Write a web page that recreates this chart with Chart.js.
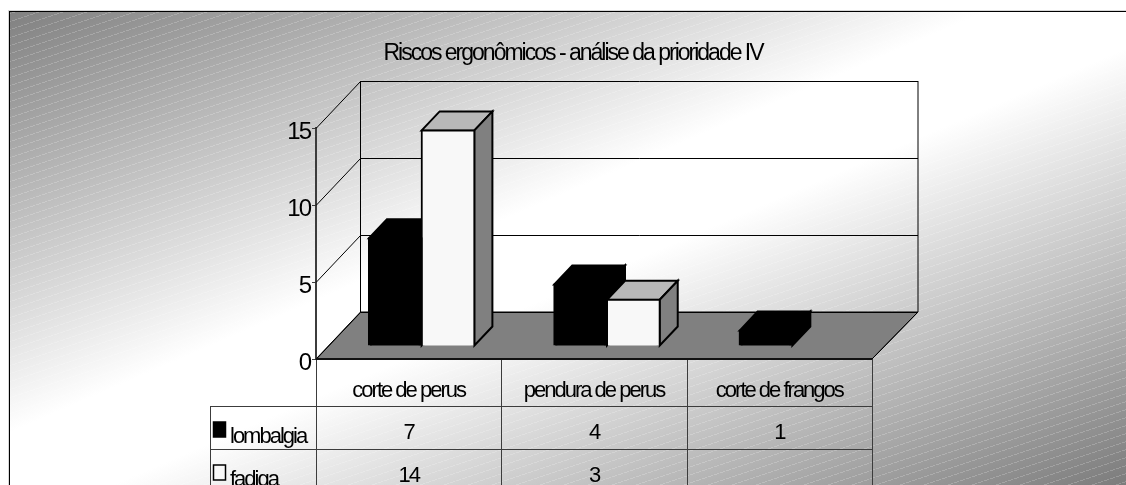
<!DOCTYPE html>
<html lang="pt">
<head>
<meta charset="utf-8">
<title>Riscos ergonômicos</title>
<style>
  html, body { margin: 0; padding: 0; background: #fff; overflow: hidden; }
  canvas { display: block; }
</style>
<script src="https://cdn.jsdelivr.net/npm/chart.js@4/dist/chart.umd.min.js"></script>
</head>
<body>
<canvas id="chart" width="1126" height="485"></canvas>
<script>
const titleText = 'Riscos ergonômicos - análise da prioridade IV';
const categories = ['corte de perus', 'pendura de perus', 'corte de frangos'];
const lombalgia = [7, 4, 1];
const fadiga = [14, 3, null];
const yTicks = [0, 5, 10, 15];

const FONT = '"Liberation Sans", Arial, sans-serif';
const TEXT_SPACING = '-2px';
const FLOOR_DEPTH = { x: 45, y: -47 };  // back wall relative to the front plane
const BAR_INSET = { x: 13, y: -13 };    // bars stand a little behind the front edge
const BAR_DEPTH = { x: 18, y: -19 };
const ROW_HEIGHT = 43;
const KEY_LEFT = 210;

// diagonal dashed hatch laid over the background gradient
function makeHatch() {
  const tile = document.createElement('canvas');
  tile.width = 24;
  tile.height = 8;
  const c = tile.getContext('2d');
  c.fillStyle = 'rgba(255,255,255,0.2)';
  for (let x = 0; x < 24; x++) {
    if (x % 6 === 5) continue;
    const y = (8 - Math.floor(x / 3)) % 8;
    c.fillRect(x, y, 1, 1);
  }
  return tile;
}

// top and side of one dataset's boxes; the library paints the front faces later
function drawBoxSides(chart, index) {
  const { ctx } = chart;
  const ds = chart.data.datasets[index];
  ctx.save();
  ctx.translate(BAR_INSET.x, BAR_INSET.y);
  ctx.strokeStyle = '#000';
  ctx.lineWidth = 2;
  chart.getDatasetMeta(index).data.forEach((bar, i) => {
    if (ds.data[i] == null) return;
    const l = bar.x - bar.width / 2;
    const r = bar.x + bar.width / 2;
    const t = bar.y;
    const b = bar.base;
    ctx.fillStyle = ds.topColor;
    ctx.beginPath();
    ctx.moveTo(l, t);
    ctx.lineTo(l + BAR_DEPTH.x, t + BAR_DEPTH.y);
    ctx.lineTo(r + BAR_DEPTH.x, t + BAR_DEPTH.y);
    ctx.lineTo(r, t);
    ctx.closePath();
    ctx.fill();
    ctx.stroke();
    ctx.fillStyle = ds.sideColor;
    ctx.beginPath();
    ctx.moveTo(r, t);
    ctx.lineTo(r + BAR_DEPTH.x, t + BAR_DEPTH.y);
    ctx.lineTo(r + BAR_DEPTH.x, b + BAR_DEPTH.y);
    ctx.lineTo(r, b);
    ctx.closePath();
    ctx.fill();
    ctx.stroke();
  });
  ctx.restore();
}

const backdrop = {
  id: 'backdrop',
  beforeDraw(chart) {
    const ctx = chart.ctx;
    ctx.letterSpacing = TEXT_SPACING;
    ctx.save();
    const g = ctx.createLinearGradient(387, -166, 739, 651);
    g.addColorStop(0, '#7c7c7c');
    g.addColorStop(0.45, '#ffffff');
    g.addColorStop(0.55, '#ffffff');
    g.addColorStop(1, '#7c7c7c');
    ctx.fillStyle = g;
    ctx.fillRect(10, 12, chart.width - 10, chart.height - 12);
    ctx.fillStyle = ctx.createPattern(makeHatch(), 'repeat');
    ctx.fillRect(10, 12, chart.width - 10, chart.height - 12);
    // frame: top and left edges only reach the page
    ctx.fillStyle = '#d8d8d8';
    ctx.fillRect(8, 10, chart.width - 8, 1);
    ctx.fillRect(8, 10, 1, chart.height - 10);
    ctx.fillStyle = '#000';
    ctx.fillRect(9, 11, chart.width - 9, 1);
    ctx.fillRect(9, 11, 1, chart.height - 11);
    ctx.restore();
  },
  // floor, back wall and the gridlines running round them, then the box sides
  beforeDatasetsDraw(chart) {
    const { ctx, chartArea: a, scales } = chart;
    const d = FLOOR_DEPTH;
    const backLeft = a.left + d.x - 0.5;
    const backRight = a.right + d.x + 1;
    ctx.save();
    ctx.strokeStyle = '#000';
    ctx.lineWidth = 1;
    ctx.fillStyle = '#808080';
    ctx.beginPath();
    ctx.moveTo(a.left, a.bottom);
    ctx.lineTo(a.right, a.bottom);
    ctx.lineTo(backRight, a.bottom + d.y);
    ctx.lineTo(backLeft, a.bottom + d.y);
    ctx.closePath();
    ctx.fill();
    ctx.stroke();
    yTicks.forEach(v => {
      const y = Math.round(scales.y.getPixelForValue(v)) + 0.5;
      ctx.beginPath();
      ctx.moveTo(a.left, y);
      ctx.lineTo(backLeft, y + d.y);
      ctx.lineTo(backRight, y + d.y);
      ctx.stroke();
    });
    ctx.beginPath();
    ctx.moveTo(backLeft, a.top + d.y);
    ctx.lineTo(backLeft, a.bottom + d.y);
    ctx.moveTo(backRight, a.top + d.y);
    ctx.lineTo(backRight, a.bottom + d.y);
    ctx.lineTo(a.right, a.bottom);
    ctx.stroke();
    ctx.restore();
    chart.data.datasets.forEach((ds, i) => drawBoxSides(chart, i));
  },
  beforeDatasetDraw(chart) {
    chart.ctx.save();
    chart.ctx.translate(BAR_INSET.x, BAR_INSET.y);
  },
  afterDatasetDraw(chart) {
    chart.ctx.restore();
  },
  // data table under the axis
  afterDraw(chart) {
    const { ctx, chartArea: a, scales } = chart;
    const step = (a.right - a.left) / categories.length;
    const rowTop = a.bottom + 47;
    ctx.save();
    ctx.strokeStyle = '#3c3c3c';
    ctx.lineWidth = 1;
    ctx.beginPath();
    for (let i = 0; i <= categories.length; i++) {
      const x = Math.round(a.left + i * step) + 0.5;
      ctx.moveTo(x, a.bottom);
      ctx.lineTo(x, chart.height);
    }
    ctx.moveTo(a.left, rowTop + 0.5);
    ctx.lineTo(a.right, rowTop + 0.5);
    ctx.moveTo(KEY_LEFT, rowTop + 0.5);
    ctx.lineTo(a.left, rowTop + 0.5);
    ctx.moveTo(KEY_LEFT + 0.5, rowTop);
    ctx.lineTo(KEY_LEFT + 0.5, chart.height);
    ctx.moveTo(KEY_LEFT, rowTop + ROW_HEIGHT + 0.5);
    ctx.lineTo(a.right, rowTop + ROW_HEIGHT + 0.5);
    ctx.stroke();
    // heavy front edge of the floor
    ctx.strokeStyle = '#111';
    ctx.lineWidth = 2;
    ctx.beginPath();
    ctx.moveTo(a.left, a.bottom);
    ctx.lineTo(a.right, a.bottom);
    ctx.stroke();

    ctx.font = '22px ' + FONT;
    ctx.textBaseline = 'middle';
    chart.data.datasets.forEach((ds, row) => {
      const y = rowTop + ROW_HEIGHT * row + 26;
      ctx.fillStyle = '#000';
      ctx.textAlign = 'center';
      ds.data.forEach((v, i) => {
        if (v != null) ctx.fillText(String(v), scales.x.getPixelForValue(i), y + 1);
      });
      ctx.textAlign = 'left';
      ctx.fillText(ds.label, 230, y + 5);
      ctx.fillStyle = ds.backgroundColor;
      ctx.strokeStyle = '#000';
      ctx.lineWidth = 1.5;
      ctx.fillRect(213.5, y - 10, 12, 15);
      ctx.strokeRect(213.5, y - 10, 12, 15);
    });
    ctx.restore();
  }
};

new Chart(document.getElementById('chart'), {
  type: 'bar',
  data: {
    labels: categories,
    datasets: [
      { label: 'lombalgia', data: lombalgia, backgroundColor: '#000000', topColor: '#000000', sideColor: '#000000', borderColor: '#000000', borderWidth: 2, inflateAmount: 1, clip: false },
      { label: 'fadiga', data: fadiga, backgroundColor: '#f8f8f8', topColor: '#b8b8b8', sideColor: '#808080', borderColor: '#000000', borderWidth: 2, inflateAmount: 1, clip: false }
    ]
  },
  options: {
    responsive: false,
    animation: false,
    layout: { padding: { left: 274, right: 254, top: 0, bottom: 0 } },
    datasets: { bar: { categoryPercentage: 0.569, barPercentage: 1 } },
    plugins: {
      legend: { display: false },
      tooltip: { enabled: false },
      title: {
        display: true,
        text: titleText,
        color: '#000',
        font: { family: FONT, size: 23, weight: 'normal' },
        padding: { top: 40, bottom: 60.4 }
      }
    },
    scales: {
      x: {
        grid: { display: false },
        border: { display: false },
        ticks: { color: '#000', font: { family: FONT, size: 22 }, padding: 11, maxRotation: 0 },
        afterFit(scale) { scale.height = 126; }
      },
      y: {
        min: 0,
        max: 15,
        afterBuildTicks(scale) { scale.ticks = yTicks.map(v => ({ value: v })); },
        grid: { drawOnChartArea: false, color: '#3c3c3c', tickLength: 4 },
        border: { display: true, color: '#3c3c3c', width: 2 },
        ticks: { color: '#000', font: { family: FONT, size: 24 }, padding: 2, labelOffset: 4 },
        afterFit(scale) { scale.width = 42; }
      }
    }
  },
  plugins: [backdrop]
});
</script>
</body>
</html>
